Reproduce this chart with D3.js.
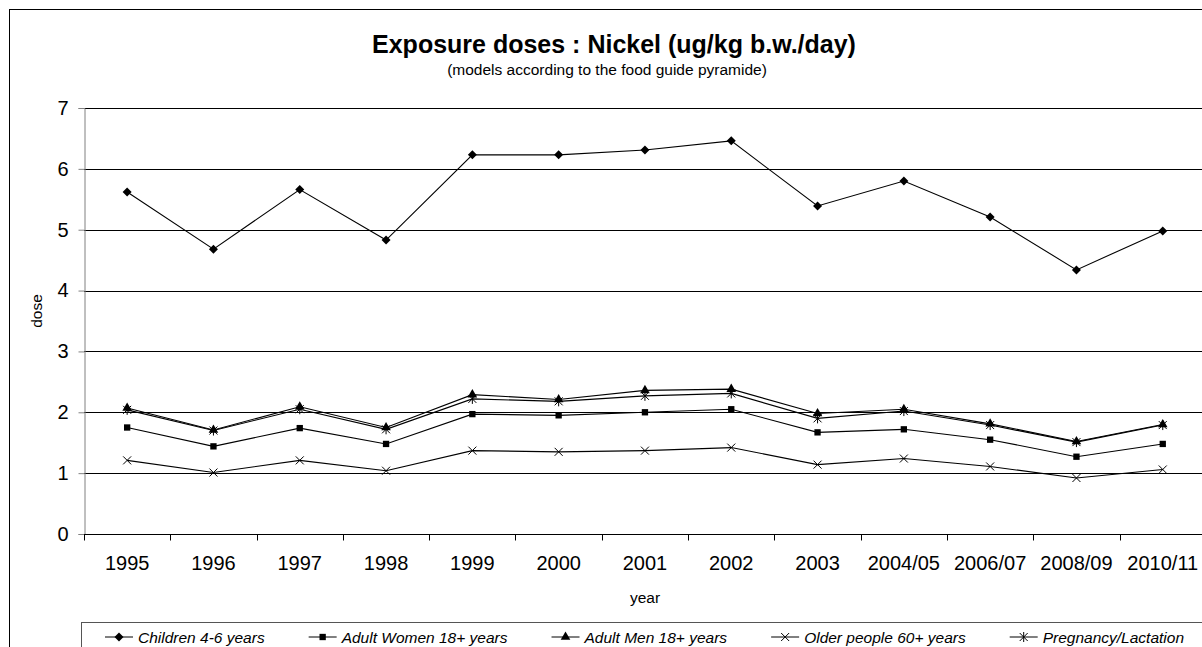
<!DOCTYPE html>
<html>
<head>
<meta charset="utf-8">
<script src="https://cdn.jsdelivr.net/npm/d3@7"></script>
<style>
  body { margin: 0; background: #fff; }
  svg { display: block; font-family: "Liberation Sans", Arial, sans-serif; }
</style>
</head>
<body>
<svg id="chart" width="1202" height="647"></svg>
<script>
// data
const categories = ["1995", "1996", "1997", "1998", "1999", "2000", "2001", "2002", "2003", "2004/05", "2006/07", "2008/09", "2010/11"];
const children = [5.62, 4.68, 5.66, 4.83, 6.23, 6.23, 6.31, 6.46, 5.39, 5.80, 5.21, 4.34, 4.98];
const women = [1.75, 1.44, 1.74, 1.48, 1.97, 1.95, 2.00, 2.05, 1.67, 1.72, 1.55, 1.27, 1.48];
const men = [2.07, 1.71, 2.09, 1.75, 2.29, 2.21, 2.36, 2.38, 1.98, 2.05, 1.81, 1.52, 1.80];
const older = [1.21, 1.01, 1.21, 1.04, 1.37, 1.35, 1.37, 1.42, 1.14, 1.24, 1.11, 0.92, 1.06];
const pregnancy = [2.04, 1.70, 2.05, 1.72, 2.22, 2.18, 2.27, 2.31, 1.90, 2.02, 1.79, 1.51, 1.79];
const seriesNames = ["Children 4-6 years", "Adult Women 18+ years", "Adult Men 18+ years", "Older people 60+ years", "Pregnancy/Lactation"];
const yTicks = [0, 1, 2, 3, 4, 5, 6, 7];

const series = [
    { name: seriesNames[0], values: children, marker: "diamond" },
    { name: seriesNames[1], values: women, marker: "square" },
    { name: seriesNames[2], values: men, marker: "triangle" },
    { name: seriesNames[3], values: older, marker: "x" },
    { name: seriesNames[4], values: pregnancy, marker: "star" }
];

const svg = d3.select("#chart");

// outer frame (runs off the right / bottom edge like the source)
svg.append("rect")
    .attr("x", 9.5).attr("y", 9.5)
    .attr("width", 1240).attr("height", 700)
    .attr("fill", "none").attr("stroke", "#000");

const plotLeft = 84, plotTop = 108, plotBottom = 534;
const bandW = 86.3;

const x = d3.scaleBand()
    .domain(categories)
    .range([plotLeft, plotLeft + bandW * categories.length]);

const y = d3.scaleLinear()
    .domain([0, 7])
    .range([plotBottom, plotTop]);

// gridlines
svg.append("g")
    .selectAll("line")
    .data(yTicks.filter(d => d > 0))
    .enter()
    .append("line")
    .attr("x1", plotLeft).attr("x2", 1202)
    .attr("y1", d => Math.round(y(d)) + 0.5)
    .attr("y2", d => Math.round(y(d)) + 0.5)
    .attr("stroke", "#000");

// y axis
const yAxis = svg.append("g")
    .attr("transform", `translate(${plotLeft + 0.5},0)`)
    .call(d3.axisLeft(y).tickValues(yTicks).tickSize(6).tickPadding(10).tickFormat(d3.format("d")));
yAxis.select(".domain").attr("stroke", "#808080");
yAxis.selectAll(".tick line").attr("stroke", "#808080");
yAxis.selectAll("text")
    .attr("font-size", 20)
    .attr("font-family", "Liberation Sans, Arial, sans-serif")
    .attr("fill", "#000");

// x axis: ticks between categories, labels centred on them
const xAxis = svg.append("g")
    .attr("transform", `translate(0,${Math.round(plotBottom) + 0.5})`);
xAxis.append("line")
    .attr("x1", plotLeft).attr("x2", 1202)
    .attr("stroke", "#000");
xAxis.selectAll(".tk")
    .data(categories)
    .enter()
    .append("line")
    .attr("class", "tk")
    .attr("x1", d => Math.round(x(d)) + 0.5)
    .attr("x2", d => Math.round(x(d)) + 0.5)
    .attr("y1", 0).attr("y2", 6)
    .attr("stroke", "#000");
xAxis.selectAll("text")
    .data(categories)
    .enter()
    .append("text")
    .attr("x", d => x(d) + x.bandwidth() / 2)
    .attr("y", 35)
    .attr("text-anchor", "middle")
    .attr("font-size", 20)
    .text(d => d);

// axis titles
svg.append("text")
    .attr("x", 645).attr("y", 603)
    .attr("text-anchor", "middle")
    .attr("font-size", 15.5)
    .text("year");

svg.append("text")
    .attr("transform", `translate(42,${(plotTop + plotBottom) / 2 - 10}) rotate(-90)`)
    .attr("text-anchor", "middle")
    .attr("font-size", 15.5)
    .text("dose");

// titles
svg.append("text")
    .attr("x", 614).attr("y", 53)
    .attr("text-anchor", "middle")
    .attr("font-size", 25)
    .attr("font-weight", "bold")
    .text("Exposure doses : Nickel (ug/kg b.w./day)");

svg.append("text")
    .attr("x", 607).attr("y", 75)
    .attr("text-anchor", "middle")
    .attr("font-size", 15.5)
    .text("(models according to the food guide pyramide)");

// markers
function markerPath(type) {
    if (type === "diamond") return "M0,-4.5L4.5,0L0,4.5L-4.5,0Z";
    if (type === "square") return d3.symbol(d3.symbolSquare, 40)();
    if (type === "triangle") return d3.symbol(d3.symbolTriangle, 40)();
    if (type === "x") return "M-4,-4L4,4M-4,4L4,-4";
    return "M-4,-4L4,4M-4,4L4,-4M0,-5L0,5";
}

function drawMarker(sel, type) {
    const p = sel.append("path").attr("d", markerPath(type));
    if (type === "x" || type === "star") {
        p.attr("fill", "none").attr("stroke", "#000").attr("stroke-width", 1);
    } else {
        p.attr("fill", "#000");
    }
}

const line = d3.line()
    .x((d, i) => x(categories[i]) + x.bandwidth() / 2)
    .y(d => y(d));

const plot = svg.append("g");
series.forEach(s => {
    plot.append("path")
        .attr("d", line(s.values))
        .attr("fill", "none")
        .attr("stroke", "#000")
        .attr("stroke-width", 1.1);
    s.values.forEach((v, i) => {
        const g = plot.append("g")
            .attr("transform", `translate(${x(categories[i]) + x.bandwidth() / 2},${y(v)})`);
        drawMarker(g, s.marker);
    });
});

// legend
svg.append("rect")
    .attr("x", 81.5).attr("y", 622.5)
    .attr("width", 1200).attr("height", 60)
    .attr("fill", "#fff").attr("stroke", "#555");

let lx = 105;
const ly = 637;
series.forEach(s => {
    const g = svg.append("g");
    g.append("line")
        .attr("x1", lx).attr("x2", lx + 28)
        .attr("y1", ly).attr("y2", ly)
        .attr("stroke", "#000");
    const m = g.append("g").attr("transform", `translate(${lx + 14},${ly})`);
    drawMarker(m, s.marker);
    const t = g.append("text")
        .attr("x", lx + 33).attr("y", ly + 5.5)
        .attr("font-size", 15.5)
        .attr("font-style", "italic")
        .text(s.name);
    lx += 33 + t.node().getComputedTextLength() + 44;
});
</script>
</body>
</html>
